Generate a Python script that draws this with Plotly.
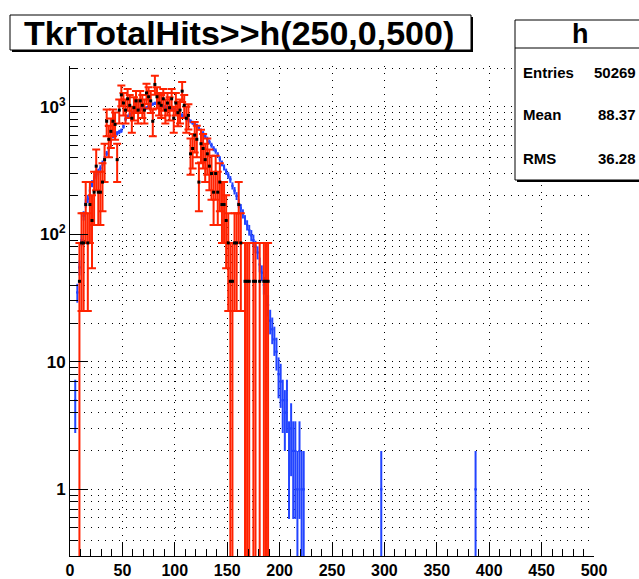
import math
import plotly.graph_objects as go

# ---------------- data ----------------
# blue histogram h (bin width 2), bin centres and counts
blue_x = [5, 7, 9, 11, 13, 15, 17, 19, 21, 23, 25, 27, 29, 31, 33, 35, 37, 39, 41, 43,
          45, 47, 49, 51, 53, 55, 57, 59, 61, 63, 65, 67, 69, 71, 73, 75, 77, 79, 81, 83,
          85, 87, 89, 91, 93, 95, 97, 99, 101, 103, 105, 107, 109, 111, 113, 115, 117, 119, 121, 123,
          125, 127, 129, 131, 133, 135, 137, 139, 141, 143, 145, 147, 149, 151, 153, 155, 157, 159, 161, 163,
          165, 167, 169, 171, 173, 175, 177, 179, 181, 183, 185, 187, 189, 191, 193, 195, 197, 199, 201, 203,
          205, 207, 209, 211, 213, 215, 217, 219, 221, 223, 297, 387]
blue_counts = [5, 35, 55, 90, 140, 175, 190, 220, 250, 270, 290, 310, 330, 360, 390, 430, 470, 540, 590, 610,
               620, 635, 650, 700, 800, 840, 870, 900, 915, 930, 950, 960, 965, 970, 980, 1000, 1020, 1050, 1065, 1050,
               1030, 1020, 1010, 1000, 990, 970, 960, 950, 940, 920, 890, 860, 840, 810, 790, 770, 750, 730, 710, 680,
               650, 620, 590, 560, 530, 500, 470, 450, 420, 390, 360, 335, 310, 290, 270, 240, 220, 200, 175, 160,
               145, 130, 118, 108, 98, 90, 80, 72, 58, 50, 40, 33, 28, 21, 18, 15, 12, 8, 7, 5,
               4, 5, 2, 3, 2, 2, 1, 2, 1, 1, 1, 1]

# red histogram (scaled), bin centres and raw entries
red_scale = 42.8
red_x = [9, 11, 13, 15, 17, 19, 21, 23, 25, 27, 29, 31, 33, 35, 37, 39, 41, 43, 45, 47,
         49, 51, 53, 55, 57, 59, 61, 63, 65, 67, 69, 71, 73, 75, 77, 79, 81, 83, 85, 87,
         89, 91, 93, 95, 97, 99, 101, 103, 105, 107, 109, 111, 113, 115, 117, 119, 121, 123, 125, 127,
         129, 131, 133, 135, 137, 139, 141, 143, 145, 147, 149, 151, 153, 155, 157, 159, 161, 163, 167, 169,
         171, 175, 177, 181, 185, 187, 189]
red_counts = [1, 2, 2, 4, 2, 4, 3, 5, 8, 5, 5, 6, 9, 18, 13, 15, 18, 17, 9, 22,
              29, 25, 22, 27, 24, 19, 23, 26, 22, 26, 24, 22, 30, 28, 26, 18, 35, 28, 25, 24,
              27, 22, 25, 23, 27, 19, 25, 21, 22, 31, 24, 19, 20, 10, 11, 14, 13, 6, 12, 11,
              9, 10, 8, 7, 5, 7, 5, 6, 4, 4, 3, 2, 1, 1, 2, 2, 4, 2, 1, 1,
              1, 1, 1, 1, 1, 1, 1]

title_text = "TkrTotalHits>>h(250,0,500)"
stats_name = "h"
stats_rows = [("Entries", "50269"), ("Mean", "88.37"), ("RMS", "36.28")]

x_range = [0, 500]
y_range = [math.log10(0.3), 3.32]
y_major = [1, 10, 100, 1000]
y_major_text = ["1", "10", "10<sup>2</sup>", "10<sup>3</sup>"]
y_minor = [m * 10 ** e for e in (-1, 0, 1, 2) for m in range(2, 10) if 0.3 <= m * 10 ** e] + [2000]
x_ticks = list(range(0, 501, 50))

# ---------------- layout geometry ----------------
W, H = 639, 579
L, R, T, B = 70, 45, 66, 23
PW, PH = W - L - R, H - T - B


def px(xpix):
    return (xpix - L) / PW


def py(ypix):
    return 1 - (ypix - T) / PH


FONT = "Liberation Sans, Arial, Helvetica, sans-serif"
RED = "#ff2200"
BLUE = "#2244ff"

blue_err = [math.sqrt(c) for c in blue_counts]
red_vals = [n * red_scale for n in red_counts]
red_err = [math.sqrt(n) * red_scale for n in red_counts]

fig = go.Figure()
fig.add_trace(go.Scatter(
    x=blue_x, y=blue_counts, mode="markers",
    marker=dict(color=BLUE, size=2, symbol="square"),
    error_y=dict(type="data", array=blue_err, arrayminus=blue_err, symmetric=False,
                 color=BLUE, thickness=2, width=0),
    error_x=dict(type="constant", value=1, color=BLUE, thickness=2, width=0),
    showlegend=False, hoverinfo="skip"))
fig.add_trace(go.Scatter(
    x=red_x, y=red_vals, mode="markers",
    marker=dict(color="black", size=3, symbol="square"),
    error_y=dict(type="data", array=red_err, arrayminus=red_err, symmetric=False,
                 color=RED, thickness=2, width=4),
    error_x=dict(type="constant", value=1, color=RED, thickness=2, width=0),
    showlegend=False, hoverinfo="skip"))

fig.update_xaxes(
    range=x_range, tickmode="array", tickvals=x_ticks, automargin=False,
    ticks="inside", ticklen=13, tickwidth=1, tickcolor="black",
    showline=True, linecolor="black", linewidth=1, mirror=False,
    showgrid=True, gridcolor="black", gridwidth=1, griddash="1px,6px",
    zeroline=False,
    tickfont=dict(family=FONT, size=16, color="black", weight="bold"),
    minor=dict(dtick=10, ticks="inside", ticklen=7, tickcolor="black", showgrid=False),
)
fig.update_yaxes(
    type="log", range=y_range, tickmode="array", tickvals=y_major, ticktext=y_major_text,
    automargin=False,
    ticks="inside", ticklen=18, tickwidth=1, tickcolor="black",
    showline=True, linecolor="black", linewidth=1, mirror=False,
    showgrid=True, gridcolor="black", gridwidth=1, griddash="1px,6px",
    zeroline=False,
    tickfont=dict(family=FONT, size=17, color="black", weight="bold"),
    minor=dict(tickvals=y_minor, ticks="inside", ticklen=8, tickcolor="black",
               showgrid=True, gridcolor="black", gridwidth=1, griddash="1px,6px"),
)

shapes = []
annotations = []
# title box with shadow
shapes.append(dict(type="rect", xref="paper", yref="paper", x0=px(12), x1=px(473), y0=py(52), y1=py(17),
                   fillcolor="black", line=dict(width=0), layer="above"))
shapes.append(dict(type="rect", xref="paper", yref="paper", x0=px(10), x1=px(471), y0=py(50), y1=py(15),
                   fillcolor="white", line=dict(color="black", width=1), layer="above"))
annotations.append(dict(xref="paper", yref="paper", x=px(239), y=py(33), text=title_text, showarrow=False,
                        xanchor="center", yanchor="middle",
                        font=dict(family=FONT, size=34, color="black", weight="bold")))
# stats box
shapes.append(dict(type="rect", xref="paper", yref="paper", x0=px(517), x1=px(660), y0=py(182), y1=py(22),
                   fillcolor="black", line=dict(width=0), layer="above"))
shapes.append(dict(type="rect", xref="paper", yref="paper", x0=px(515), x1=px(660), y0=py(180), y1=py(20),
                   fillcolor="white", line=dict(color="black", width=1), layer="above"))
shapes.append(dict(type="line", xref="paper", yref="paper", x0=px(515), x1=px(660), y0=py(48), y1=py(48),
                   line=dict(color="black", width=1), layer="above"))
annotations.append(dict(xref="paper", yref="paper", x=px(580), y=py(34), text=stats_name, showarrow=False,
                        xanchor="center", yanchor="middle",
                        font=dict(family=FONT, size=27, color="black", weight="bold")))
for i, (k, v) in enumerate(stats_rows):
    yy = 72 + i * 43
    annotations.append(dict(xref="paper", yref="paper", x=px(521), y=py(yy), text=k, showarrow=False,
                            xanchor="left", yanchor="middle",
                            font=dict(family=FONT, size=15, color="black", weight="bold")))
    annotations.append(dict(xref="paper", yref="paper", x=px(638), y=py(yy), text=v, showarrow=False,
                            xanchor="right", yanchor="middle",
                            font=dict(family=FONT, size=15, color="black", weight="bold")))

fig.update_layout(
    width=W, height=H, margin=dict(l=L, r=R, t=T, b=B, pad=0, autoexpand=False),
    paper_bgcolor="white", plot_bgcolor="white",
    shapes=shapes, annotations=annotations, showlegend=False,
)

fig.write_html(
    "out.html",
    config={"displayModeBar": False},
    post_script="document.body.style.margin='0';document.body.style.padding='0';"
                "document.body.style.overflow='hidden';",
)
